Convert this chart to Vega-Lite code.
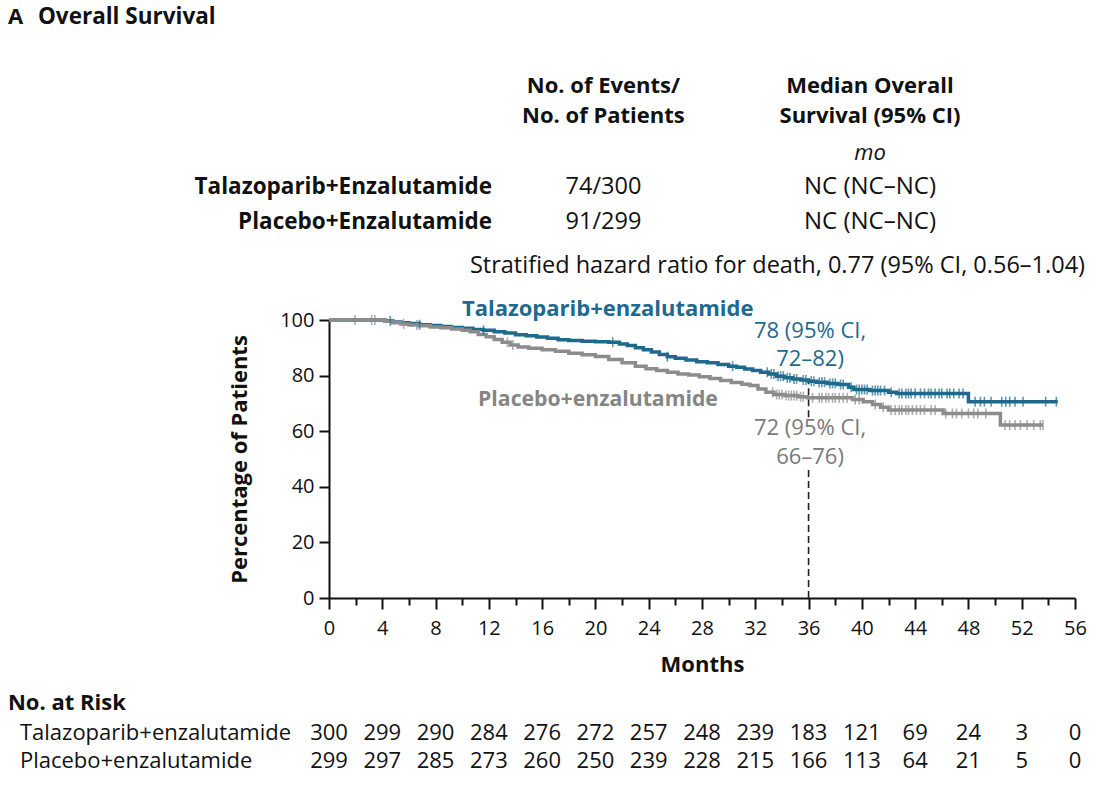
{
  "$schema": "https://vega.github.io/schema/vega-lite/v6.json",
  "width": 746,
  "height": 278,
  "autosize": "none",
  "padding": {"left": 329, "top": 320, "right": 39, "bottom": 196},
  "background": "white",
  "config": {
    "font": "Open Sans",
    "view": {"stroke": null},
    "axis": {"grid": false, "domainColor": "#111", "tickColor": "#111", "labelColor": "#111", "titleColor": "#111", "domainWidth": 2, "tickWidth": 2}
  },
  "datasets": {
    "tala_km": [
      {"month": 0, "pct": 100}, {"month": 4.2, "pct": 99.7}, {"month": 4.8, "pct": 99.3}, {"month": 5.4, "pct": 99.0},
      {"month": 6.0, "pct": 98.7}, {"month": 6.8, "pct": 98.3}, {"month": 7.6, "pct": 98.0}, {"month": 8.4, "pct": 97.7},
      {"month": 9.2, "pct": 97.3}, {"month": 10.0, "pct": 97.0}, {"month": 10.8, "pct": 96.6}, {"month": 11.6, "pct": 96.3},
      {"month": 12.4, "pct": 95.8}, {"month": 13.2, "pct": 95.3}, {"month": 14.0, "pct": 94.7}, {"month": 14.8, "pct": 94.3},
      {"month": 15.6, "pct": 93.9}, {"month": 16.4, "pct": 93.4}, {"month": 17.2, "pct": 92.9}, {"month": 18.0, "pct": 92.6},
      {"month": 19.0, "pct": 92.4}, {"month": 20.0, "pct": 92.2}, {"month": 21.0, "pct": 92.0}, {"month": 21.8, "pct": 91.4},
      {"month": 22.4, "pct": 90.8}, {"month": 23.0, "pct": 90.0}, {"month": 23.6, "pct": 89.3}, {"month": 24.2, "pct": 88.5},
      {"month": 24.8, "pct": 87.6}, {"month": 25.4, "pct": 86.8}, {"month": 26.0, "pct": 86.2}, {"month": 26.8, "pct": 85.6},
      {"month": 27.6, "pct": 85.0}, {"month": 28.4, "pct": 84.6}, {"month": 29.2, "pct": 84.0}, {"month": 30.0, "pct": 83.4},
      {"month": 30.6, "pct": 83.0}, {"month": 31.2, "pct": 82.4}, {"month": 31.8, "pct": 81.8}, {"month": 32.4, "pct": 81.2},
      {"month": 33.0, "pct": 80.6}, {"month": 33.6, "pct": 79.8}, {"month": 34.2, "pct": 79.2}, {"month": 34.8, "pct": 78.8},
      {"month": 35.4, "pct": 78.4}, {"month": 36.0, "pct": 78.0}, {"month": 36.6, "pct": 77.6}, {"month": 37.4, "pct": 77.2},
      {"month": 38.2, "pct": 76.8}, {"month": 39.0, "pct": 75.8}, {"month": 39.4, "pct": 75.0}, {"month": 40.6, "pct": 74.6},
      {"month": 42.0, "pct": 74.0}, {"month": 42.6, "pct": 73.6}, {"month": 48.0, "pct": 70.6}, {"month": 54.7, "pct": 70.6}
    ],
    "plac_km": [
      {"month": 0, "pct": 100}, {"month": 4.2, "pct": 99.6}, {"month": 4.8, "pct": 99.0}, {"month": 5.4, "pct": 98.6},
      {"month": 6.0, "pct": 98.2}, {"month": 6.8, "pct": 97.9}, {"month": 7.6, "pct": 97.5}, {"month": 8.4, "pct": 97.2},
      {"month": 9.2, "pct": 96.8}, {"month": 10.0, "pct": 96.3}, {"month": 10.6, "pct": 95.8}, {"month": 11.2, "pct": 94.8},
      {"month": 11.8, "pct": 94.0}, {"month": 12.4, "pct": 93.0}, {"month": 13.0, "pct": 92.0}, {"month": 13.6, "pct": 91.0},
      {"month": 14.2, "pct": 90.3}, {"month": 15.0, "pct": 89.8}, {"month": 16.0, "pct": 89.3}, {"month": 17.0, "pct": 88.8},
      {"month": 18.0, "pct": 88.0}, {"month": 19.0, "pct": 87.5}, {"month": 20.0, "pct": 86.9}, {"month": 21.0, "pct": 85.8},
      {"month": 22.0, "pct": 84.6}, {"month": 23.0, "pct": 83.4}, {"month": 23.8, "pct": 82.5}, {"month": 24.6, "pct": 81.8},
      {"month": 25.4, "pct": 81.2}, {"month": 26.2, "pct": 80.6}, {"month": 27.0, "pct": 80.2}, {"month": 27.8, "pct": 79.6},
      {"month": 28.6, "pct": 79.0}, {"month": 29.4, "pct": 78.2}, {"month": 30.2, "pct": 77.5}, {"month": 31.0, "pct": 76.9},
      {"month": 31.6, "pct": 76.4}, {"month": 32.2, "pct": 75.2}, {"month": 32.8, "pct": 74.0}, {"month": 33.4, "pct": 73.2},
      {"month": 34.2, "pct": 72.8}, {"month": 35.2, "pct": 72.4}, {"month": 35.9, "pct": 72.0}, {"month": 39.3, "pct": 71.4},
      {"month": 40.1, "pct": 70.6}, {"month": 40.8, "pct": 69.6}, {"month": 41.4, "pct": 68.6}, {"month": 42.0, "pct": 67.6},
      {"month": 46.1, "pct": 66.4}, {"month": 50.4, "pct": 62.2}, {"month": 53.6, "pct": 62.2}
    ],
    "tala_censor": [
      {"month": 4.6, "pct": 99.7}, {"month": 6.8, "pct": 98.3}, {"month": 11.6, "pct": 96.3}, {"month": 21.3, "pct": 92.0},
      {"month": 25.4, "pct": 86.8}, {"month": 30.3, "pct": 83.4}, {"month": 32.9, "pct": 81.2}, {"month": 33.2, "pct": 80.6},
      {"month": 33.4, "pct": 80.6}, {"month": 33.7, "pct": 79.8}, {"month": 33.9, "pct": 79.8}, {"month": 34.1, "pct": 79.8},
      {"month": 34.4, "pct": 79.2}, {"month": 34.6, "pct": 79.2}, {"month": 34.9, "pct": 78.8}, {"month": 35.1, "pct": 78.8},
      {"month": 35.6, "pct": 78.4}, {"month": 35.8, "pct": 78.4}, {"month": 36.2, "pct": 78.0}, {"month": 36.4, "pct": 78.0},
      {"month": 36.8, "pct": 77.6}, {"month": 37.0, "pct": 77.6}, {"month": 37.2, "pct": 77.6}, {"month": 37.6, "pct": 77.2},
      {"month": 37.8, "pct": 77.2}, {"month": 38.0, "pct": 77.2}, {"month": 38.4, "pct": 76.8}, {"month": 38.6, "pct": 76.8},
      {"month": 39.2, "pct": 75.8}, {"month": 39.6, "pct": 75.0}, {"month": 39.8, "pct": 75.0}, {"month": 40.0, "pct": 75.0},
      {"month": 40.2, "pct": 75.0}, {"month": 40.4, "pct": 75.0}, {"month": 40.8, "pct": 74.6}, {"month": 41.0, "pct": 74.6},
      {"month": 41.2, "pct": 74.6}, {"month": 41.4, "pct": 74.6}, {"month": 41.7, "pct": 74.6}, {"month": 42.2, "pct": 74.0},
      {"month": 42.8, "pct": 73.6}, {"month": 43.0, "pct": 73.6}, {"month": 43.3, "pct": 73.6}, {"month": 43.5, "pct": 73.6},
      {"month": 43.7, "pct": 73.6}, {"month": 44.0, "pct": 73.6}, {"month": 44.4, "pct": 73.6}, {"month": 44.7, "pct": 73.6},
      {"month": 45.0, "pct": 73.6}, {"month": 45.2, "pct": 73.6}, {"month": 45.5, "pct": 73.6}, {"month": 45.8, "pct": 73.6},
      {"month": 46.0, "pct": 73.6}, {"month": 46.4, "pct": 73.6}, {"month": 46.6, "pct": 73.6}, {"month": 46.9, "pct": 73.6},
      {"month": 47.3, "pct": 73.6}, {"month": 47.6, "pct": 73.6}, {"month": 48.5, "pct": 70.6}, {"month": 48.9, "pct": 70.6},
      {"month": 49.2, "pct": 70.6}, {"month": 49.7, "pct": 70.6}, {"month": 50.5, "pct": 70.6}, {"month": 50.8, "pct": 70.6},
      {"month": 51.1, "pct": 70.6}, {"month": 51.5, "pct": 70.6}, {"month": 52.1, "pct": 70.6}, {"month": 53.8, "pct": 70.6},
      {"month": 54.6, "pct": 70.6}
    ],
    "plac_censor": [
      {"month": 1.95, "pct": 100}, {"month": 3.2, "pct": 100}, {"month": 3.45, "pct": 100}, {"month": 5.6, "pct": 98.6},
      {"month": 6.6, "pct": 98.2}, {"month": 13.4, "pct": 92.0}, {"month": 13.8, "pct": 91.0}, {"month": 33.3, "pct": 74.0},
      {"month": 33.6, "pct": 73.2}, {"month": 33.8, "pct": 73.2}, {"month": 34.0, "pct": 73.2}, {"month": 34.3, "pct": 72.8},
      {"month": 34.5, "pct": 72.8}, {"month": 34.7, "pct": 72.8}, {"month": 34.9, "pct": 72.8}, {"month": 35.1, "pct": 72.8},
      {"month": 35.4, "pct": 72.4}, {"month": 35.6, "pct": 72.4}, {"month": 36.3, "pct": 72.0}, {"month": 36.8, "pct": 72.0},
      {"month": 37.0, "pct": 72.0}, {"month": 37.3, "pct": 72.0}, {"month": 37.5, "pct": 72.0}, {"month": 37.8, "pct": 72.0},
      {"month": 38.0, "pct": 72.0}, {"month": 38.3, "pct": 72.0}, {"month": 38.6, "pct": 72.0}, {"month": 38.9, "pct": 72.0},
      {"month": 39.5, "pct": 71.4}, {"month": 39.8, "pct": 71.4}, {"month": 41.0, "pct": 69.6}, {"month": 41.6, "pct": 68.6},
      {"month": 42.2, "pct": 67.6}, {"month": 42.5, "pct": 67.6}, {"month": 42.8, "pct": 67.6}, {"month": 43.0, "pct": 67.6},
      {"month": 43.3, "pct": 67.6}, {"month": 43.5, "pct": 67.6}, {"month": 43.8, "pct": 67.6}, {"month": 44.1, "pct": 67.6},
      {"month": 44.4, "pct": 67.6}, {"month": 44.7, "pct": 67.6}, {"month": 45.2, "pct": 67.6}, {"month": 45.5, "pct": 67.6},
      {"month": 46.3, "pct": 66.4}, {"month": 46.8, "pct": 66.4}, {"month": 47.1, "pct": 66.4}, {"month": 47.5, "pct": 66.4},
      {"month": 48.0, "pct": 66.4}, {"month": 48.4, "pct": 66.4}, {"month": 48.7, "pct": 66.4}, {"month": 49.3, "pct": 66.4},
      {"month": 50.75, "pct": 62.2}, {"month": 51.1, "pct": 62.2}, {"month": 51.5, "pct": 62.2}, {"month": 51.9, "pct": 62.2},
      {"month": 52.4, "pct": 62.2}, {"month": 52.9, "pct": 62.2}, {"month": 53.4, "pct": 62.2}, {"month": 53.6, "pct": 62.2}
    ],
    "risk": [
      {"arm": "tala", "month": 0, "n": 300}, {"arm": "tala", "month": 4, "n": 299}, {"arm": "tala", "month": 8, "n": 290},
      {"arm": "tala", "month": 12, "n": 284}, {"arm": "tala", "month": 16, "n": 276}, {"arm": "tala", "month": 20, "n": 272},
      {"arm": "tala", "month": 24, "n": 257}, {"arm": "tala", "month": 28, "n": 248}, {"arm": "tala", "month": 32, "n": 239},
      {"arm": "tala", "month": 36, "n": 183}, {"arm": "tala", "month": 40, "n": 121}, {"arm": "tala", "month": 44, "n": 69},
      {"arm": "tala", "month": 48, "n": 24}, {"arm": "tala", "month": 52, "n": 3}, {"arm": "tala", "month": 56, "n": 0},
      {"arm": "plac", "month": 0, "n": 299}, {"arm": "plac", "month": 4, "n": 297}, {"arm": "plac", "month": 8, "n": 285},
      {"arm": "plac", "month": 12, "n": 273}, {"arm": "plac", "month": 16, "n": 260}, {"arm": "plac", "month": 20, "n": 250},
      {"arm": "plac", "month": 24, "n": 239}, {"arm": "plac", "month": 28, "n": 228}, {"arm": "plac", "month": 32, "n": 215},
      {"arm": "plac", "month": 36, "n": 166}, {"arm": "plac", "month": 40, "n": 113}, {"arm": "plac", "month": 44, "n": 64},
      {"arm": "plac", "month": 48, "n": 21}, {"arm": "plac", "month": 52, "n": 5}, {"arm": "plac", "month": 56, "n": 0}
    ]
  },
  "resolve": {"axis": {"x": "independent", "y": "independent"}},
  "layer": [
    {
      "data": {"values": [{}]},
      "mark": {"type": "rule", "color": "#222", "strokeWidth": 1.6, "strokeDash": [7, 4]},
      "encoding": {
        "x": {"datum": 36, "axis": null},
        "y": {"datum": 0, "axis": null},
        "y2": {"datum": 46}
      }
    },
    {
      "data": {"values": [{}]},
      "mark": {"type": "rule", "color": "#222", "strokeWidth": 1.6, "strokeDash": [7, 4]},
      "encoding": {
        "x": {"datum": 36, "axis": null},
        "y": {"datum": 65, "axis": null},
        "y2": {"datum": 78}
      }
    },
    {
      "data": {"name": "tala_km"},
      "mark": {"type": "line", "interpolate": "step-after", "strokeWidth": 3.5, "color": "#1d6a8e"},
      "encoding": {
        "x": {
          "field": "month", "type": "quantitative",
          "scale": {"domain": [0, 56], "nice": false, "zero": false},
          "axis": {
            "orient": "bottom",
            "values": [0, 4, 8, 12, 16, 20, 24, 28, 32, 36, 40, 44, 48, 52, 56],
            "tickSize": 11, "labelFontSize": 20, "labelPadding": 9, "labelFlush": false,
            "title": "Months", "titleFontSize": 22, "titleFontWeight": "bold", "titlePadding": 16
          }
        },
        "y": {
          "field": "pct", "type": "quantitative",
          "scale": {"domain": [0, 100], "nice": false},
          "axis": {
            "orient": "left",
            "values": [0, 20, 40, 60, 80, 100],
            "tickSize": 10, "labelFontSize": 20, "labelPadding": 5, "labelFlush": false,
            "title": "Percentage of Patients", "titleFontSize": 22, "titleFontWeight": "bold", "titlePadding": 28
          }
        }
      }
    },
    {
      "data": {"name": "plac_km"},
      "mark": {"type": "line", "interpolate": "step-after", "strokeWidth": 3.5, "color": "#8c8c8c"},
      "encoding": {
        "x": {"field": "month", "type": "quantitative", "axis": null},
        "y": {"field": "pct", "type": "quantitative", "axis": null}
      }
    },
    {
      "data": {"name": "tala_censor"},
      "mark": {"type": "tick", "orient": "vertical", "size": 10, "thickness": 1.6, "color": "#1d6a8e"},
      "encoding": {
        "x": {
          "field": "month", "type": "quantitative",
          "axis": {
            "orient": "bottom",
            "values": [2, 6, 10, 14, 18, 22, 26, 30, 34, 38, 42, 46, 50, 54],
            "tickSize": 7, "labels": false, "domain": false, "title": null
          }
        },
        "y": {"field": "pct", "type": "quantitative", "axis": null}
      }
    },
    {
      "data": {"name": "plac_censor"},
      "mark": {"type": "tick", "orient": "vertical", "size": 10, "thickness": 1.6, "color": "#8c8c8c"},
      "encoding": {
        "x": {"field": "month", "type": "quantitative", "axis": null},
        "y": {"field": "pct", "type": "quantitative", "axis": null}
      }
    },
    {
      "data": {"name": "risk"},
      "transform": [{"filter": "datum.arm === 'tala'"}],
      "mark": {"type": "text", "fontSize": 22, "align": "center", "baseline": "middle", "color": "#111"},
      "encoding": {
        "x": {"field": "month", "type": "quantitative", "axis": null},
        "y": {"datum": -48.56, "axis": null},
        "text": {"field": "n", "type": "quantitative"}
      }
    },
    {
      "data": {"name": "risk"},
      "transform": [{"filter": "datum.arm === 'plac'"}],
      "mark": {"type": "text", "fontSize": 22, "align": "center", "baseline": "middle", "color": "#111"},
      "encoding": {
        "x": {"field": "month", "type": "quantitative", "axis": null},
        "y": {"datum": -58.63, "axis": null},
        "text": {"field": "n", "type": "quantitative"}
      }
    },
    {
      "data": {"values": [{}]},
      "mark": {"type": "text", "text": "A", "fontSize": 22, "fontWeight": "bold", "align": "left", "baseline": "middle", "color": "#111"},
      "encoding": {"x": {"datum": -24.1, "axis": null}, "y": {"datum": 209.0, "axis": null}}
    },
    {
      "data": {"values": [{}]},
      "mark": {"type": "text", "text": "Overall Survival", "fontSize": 22.5, "fontWeight": "bold", "align": "left", "baseline": "middle", "color": "#111"},
      "encoding": {"x": {"datum": -21.85, "axis": null}, "y": {"datum": 209.0, "axis": null}}
    },
    {
      "data": {"values": [{}]},
      "mark": {"type": "text", "text": "No. of Events/", "fontSize": 22, "fontWeight": "bold", "align": "center", "baseline": "middle", "color": "#111"},
      "encoding": {"x": {"datum": 20.6, "axis": null}, "y": {"datum": 184.2, "axis": null}}
    },
    {
      "data": {"values": [{}]},
      "mark": {"type": "text", "text": "No. of Patients", "fontSize": 22, "fontWeight": "bold", "align": "center", "baseline": "middle", "color": "#111"},
      "encoding": {"x": {"datum": 20.6, "axis": null}, "y": {"datum": 173.4, "axis": null}}
    },
    {
      "data": {"values": [{}]},
      "mark": {"type": "text", "text": "Median Overall", "fontSize": 22, "fontWeight": "bold", "align": "center", "baseline": "middle", "color": "#111"},
      "encoding": {"x": {"datum": 40.61, "axis": null}, "y": {"datum": 184.2, "axis": null}}
    },
    {
      "data": {"values": [{}]},
      "mark": {"type": "text", "text": "Survival (95% CI)", "fontSize": 22, "fontWeight": "bold", "align": "center", "baseline": "middle", "color": "#111"},
      "encoding": {"x": {"datum": 40.61, "axis": null}, "y": {"datum": 173.4, "axis": null}}
    },
    {
      "data": {"values": [{}]},
      "mark": {"type": "text", "text": "mo", "fontSize": 22, "fontStyle": "italic", "align": "center", "baseline": "middle", "color": "#111"},
      "encoding": {"x": {"datum": 40.61, "axis": null}, "y": {"datum": 160.1, "axis": null}}
    },
    {
      "data": {"values": [{}]},
      "mark": {"type": "text", "text": "Talazoparib+Enzalutamide", "fontSize": 22.5, "fontWeight": "bold", "align": "right", "baseline": "middle", "color": "#111"},
      "encoding": {"x": {"datum": 12.24, "axis": null}, "y": {"datum": 147.8, "axis": null}}
    },
    {
      "data": {"values": [{}]},
      "mark": {"type": "text", "text": "74/300", "fontSize": 23.5, "align": "center", "baseline": "middle", "color": "#111"},
      "encoding": {"x": {"datum": 20.6, "axis": null}, "y": {"datum": 147.8, "axis": null}}
    },
    {
      "data": {"values": [{}]},
      "mark": {"type": "text", "text": "NC (NC–NC)", "fontSize": 24, "align": "center", "baseline": "middle", "color": "#111"},
      "encoding": {"x": {"datum": 40.61, "axis": null}, "y": {"datum": 147.8, "axis": null}}
    },
    {
      "data": {"values": [{}]},
      "mark": {"type": "text", "text": "Placebo+Enzalutamide", "fontSize": 22.5, "fontWeight": "bold", "align": "right", "baseline": "middle", "color": "#111"},
      "encoding": {"x": {"datum": 12.24, "axis": null}, "y": {"datum": 135.3, "axis": null}}
    },
    {
      "data": {"values": [{}]},
      "mark": {"type": "text", "text": "91/299", "fontSize": 23.5, "align": "center", "baseline": "middle", "color": "#111"},
      "encoding": {"x": {"datum": 20.6, "axis": null}, "y": {"datum": 135.3, "axis": null}}
    },
    {
      "data": {"values": [{}]},
      "mark": {"type": "text", "text": "NC (NC–NC)", "fontSize": 24, "align": "center", "baseline": "middle", "color": "#111"},
      "encoding": {"x": {"datum": 40.61, "axis": null}, "y": {"datum": 135.3, "axis": null}}
    },
    {
      "data": {"values": [{}]},
      "mark": {"type": "text", "text": "Stratified hazard ratio for death, 0.77 (95% CI, 0.56–1.04)", "fontSize": 23.5, "align": "left", "baseline": "middle", "color": "#111"},
      "encoding": {"x": {"datum": 10.58, "axis": null}, "y": {"datum": 119.4, "axis": null}}
    },
    {
      "data": {"values": [{}]},
      "mark": {"type": "text", "text": "Talazoparib+enzalutamide", "fontSize": 22, "fontWeight": "bold", "align": "left", "baseline": "middle", "color": "#1d6a8e"},
      "encoding": {"x": {"datum": 9.98, "axis": null}, "y": {"datum": 103.96, "axis": null}}
    },
    {
      "data": {"values": [{}]},
      "mark": {"type": "text", "text": "78 (95% CI,", "fontSize": 22, "align": "center", "baseline": "middle", "color": "#1d6a8e"},
      "encoding": {"x": {"datum": 36.11, "axis": null}, "y": {"datum": 95.9, "axis": null}}
    },
    {
      "data": {"values": [{}]},
      "mark": {"type": "text", "text": "72–82)", "fontSize": 22, "align": "center", "baseline": "middle", "color": "#1d6a8e"},
      "encoding": {"x": {"datum": 36.11, "axis": null}, "y": {"datum": 85.8, "axis": null}}
    },
    {
      "data": {"values": [{}]},
      "mark": {"type": "text", "text": "Placebo+enzalutamide", "fontSize": 21.2, "fontWeight": "bold", "align": "left", "baseline": "middle", "color": "#858585"},
      "encoding": {"x": {"datum": 11.19, "axis": null}, "y": {"datum": 71.2, "axis": null}}
    },
    {
      "data": {"values": [{}]},
      "mark": {"type": "text", "text": "72 (95% CI,", "fontSize": 22, "align": "center", "baseline": "middle", "color": "#7a7a7a"},
      "encoding": {"x": {"datum": 36.11, "axis": null}, "y": {"datum": 61.3, "axis": null}}
    },
    {
      "data": {"values": [{}]},
      "mark": {"type": "text", "text": "66–76)", "fontSize": 22, "align": "center", "baseline": "middle", "color": "#7a7a7a"},
      "encoding": {"x": {"datum": 36.11, "axis": null}, "y": {"datum": 50.6, "axis": null}}
    },
    {
      "data": {"values": [{}]},
      "mark": {"type": "text", "text": "No. at Risk", "fontSize": 22, "fontWeight": "bold", "align": "left", "baseline": "middle", "color": "#111"},
      "encoding": {"x": {"datum": -24.1, "axis": null}, "y": {"datum": -37.8, "axis": null}}
    },
    {
      "data": {"values": [{}]},
      "mark": {"type": "text", "text": "Talazoparib+enzalutamide", "fontSize": 22, "align": "left", "baseline": "middle", "color": "#111"},
      "encoding": {"x": {"datum": -23.2, "axis": null}, "y": {"datum": -48.56, "axis": null}}
    },
    {
      "data": {"values": [{}]},
      "mark": {"type": "text", "text": "Placebo+enzalutamide", "fontSize": 22, "align": "left", "baseline": "middle", "color": "#111"},
      "encoding": {"x": {"datum": -23.2, "axis": null}, "y": {"datum": -58.63, "axis": null}}
    }
  ]
}
